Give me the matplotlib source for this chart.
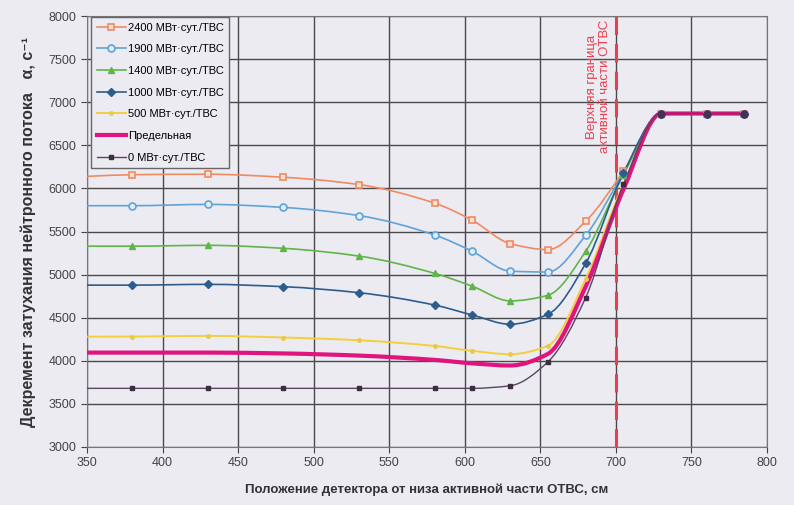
import numpy as np
import matplotlib
matplotlib.use("Agg")
import matplotlib.pyplot as plt
from matplotlib.path import Path
from matplotlib.patches import PathPatch
from matplotlib.lines import Line2D

plt.rcParams['font.family'] = ['Liberation Sans', 'DejaVu Sans']

# detector position, cm
pos = [350, 380, 430, 480, 530, 580, 605, 630, 655, 680, 705, 730, 760, 785]

s2400 = [6140, 6160, 6165, 6130, 6045, 5830, 5630, 5360, 5290, 5620, 6200, 6870, 6870, 6870]
s1900 = [5800, 5800, 5815, 5780, 5685, 5460, 5270, 5040, 5030, 5455, 6180, 6870, 6870, 6870]
s1400 = [5330, 5330, 5340, 5305, 5215, 5015, 4865, 4695, 4760, 5270, 6160, 6870, 6870, 6870]
s1000 = [4878, 4878, 4887, 4860, 4790, 4647, 4531, 4424, 4539, 5130, 6180, 6870, 6870, 6870]
s500 = [4280, 4281, 4289, 4270, 4238, 4172, 4115, 4076, 4175, 4950, 6050, 6870, 6870, 6870]
s_lim = [4095, 4095, 4095, 4085, 4060, 4010, 3970, 3945, 4080, 4860, 5990, 6870, 6870, 6870]
s0 = [3680, 3680, 3680, 3680, 3680, 3680, 3680, 3710, 3987, 4733, 6050, 6870, 6870, 6870]

labels = ['2400 МВт·сут./ТВС', '1900 МВт·сут./ТВС', '1400 МВт·сут./ТВС',
          '1000 МВт·сут./ТВС', '500 МВт·сут./ТВС', 'Предельная', '0 МВт·сут./ТВС']

bg = '#ecebf2'


def smooth_path(x, y):
    # bezier path through the points, monotone tangents (no overshoot)
    x = np.asarray(x, float)
    y = np.asarray(y, float)
    h = np.diff(x)
    d = np.diff(y) / h
    m = np.zeros_like(y)
    m[0], m[-1] = d[0], d[-1]
    for i in range(1, len(x) - 1):
        if d[i - 1] * d[i] > 0:
            w1 = 2 * h[i] + h[i - 1]
            w2 = h[i] + 2 * h[i - 1]
            m[i] = (w1 + w2) / (w1 / d[i - 1] + w2 / d[i])
    verts = [(x[0], y[0])]
    codes = [Path.MOVETO]
    for i in range(len(x) - 1):
        verts += [(x[i] + h[i] / 3, y[i] + m[i] * h[i] / 3),
                  (x[i + 1] - h[i] / 3, y[i + 1] - m[i + 1] * h[i] / 3),
                  (x[i + 1], y[i + 1])]
        codes += [Path.CURVE4] * 3
    return Path(verts, codes)


fig = plt.figure(figsize=(7.94, 5.05), dpi=100, facecolor=bg)
ax = fig.add_axes([0.1096, 0.115, 0.8564, 0.853], facecolor=bg)

styles = [
    (s2400, '#f08a62', 1.2, dict(marker='s', ms=5, mfc='#fbe3d6', mec='#f08a62', mew=1.2)),
    (s1900, '#5fa3d8', 1.2, dict(marker='o', ms=5, mfc='#e3eef8', mec='#5fa3d8', mew=1.2)),
    (s1400, '#5fb548', 1.2, dict(marker='^', ms=5, mfc='#5fb548', mec='#5fb548')),
    (s1000, '#2c5d8c', 1.2, dict(marker='D', ms=4.5, mfc='#2c5d8c', mec='#2c5d8c')),
    (s500, '#f4cf3c', 1.4, dict(marker='o', ms=2.5, mfc='#eac84a', mec='#eac84a')),
    (s_lim, '#e0147c', 3.0, dict(marker='None')),
    (s0, '#5a4560', 1.0, dict(marker='s', ms=3, mfc='#3e2c45', mec='#3e2c45')),
]

handles = []
for (vals, color, lw, mk), lab in zip(styles, labels):
    ax.add_patch(PathPatch(smooth_path(pos, vals), fill=False, edgecolor=color, lw=lw, zorder=3))
    ax.plot(pos[1:], vals[1:], ls='none', zorder=4, **mk)
    handles.append(Line2D([], [], color=color, lw=lw, **mk))

# tail points where all curves meet
ax.plot(pos[-3:], s0[-3:], ls='none', marker='o', ms=5, color='#4a2f55', zorder=5)

ax.axvline(700, color='#e8404f', lw=2.2, ls=(0, (6, 3)), zorder=2)
ax.text(688.5, 7180, 'Верхняя граница\nактивной части ОТВС', rotation=90, color='#e8404f',
        fontsize=9.5, ha='center', va='center', linespacing=1.05)

ax.set_xlim(350, 800)
ax.set_ylim(3000, 8000)
ax.set_xticks(range(350, 801, 50))
ax.set_yticks(range(3000, 8001, 500))
ax.grid(True, color='#4a4a4a', lw=1.0, zorder=1)
ax.set_axisbelow(True)
for sp in ax.spines.values():
    sp.set_color('#777777')
ax.tick_params(colors='#444444', labelsize=9, length=4, width=0.8)

ax.set_xlabel('Положение детектора от низа активной части ОТВС, см', fontsize=9.5,
              fontweight='bold', color='#333333', labelpad=10)
ax.set_ylabel('Декремент затухания нейтронного потока   α, с⁻¹', fontsize=11.5,
              fontweight='bold', color='#333333', labelpad=9)

leg = ax.legend(handles, labels, loc='upper left', bbox_to_anchor=(0.006, 0.998),
                borderaxespad=0, fontsize=8, frameon=True, fancybox=False,
                labelspacing=1.05, handlelength=2.6, handletextpad=0.2,
                borderpad=0.5)
leg.get_frame().set_edgecolor('#666666')
leg.get_frame().set_facecolor(bg)
leg.get_frame().set_alpha(1)

fig.savefig('out.png', dpi=100, facecolor=bg)
